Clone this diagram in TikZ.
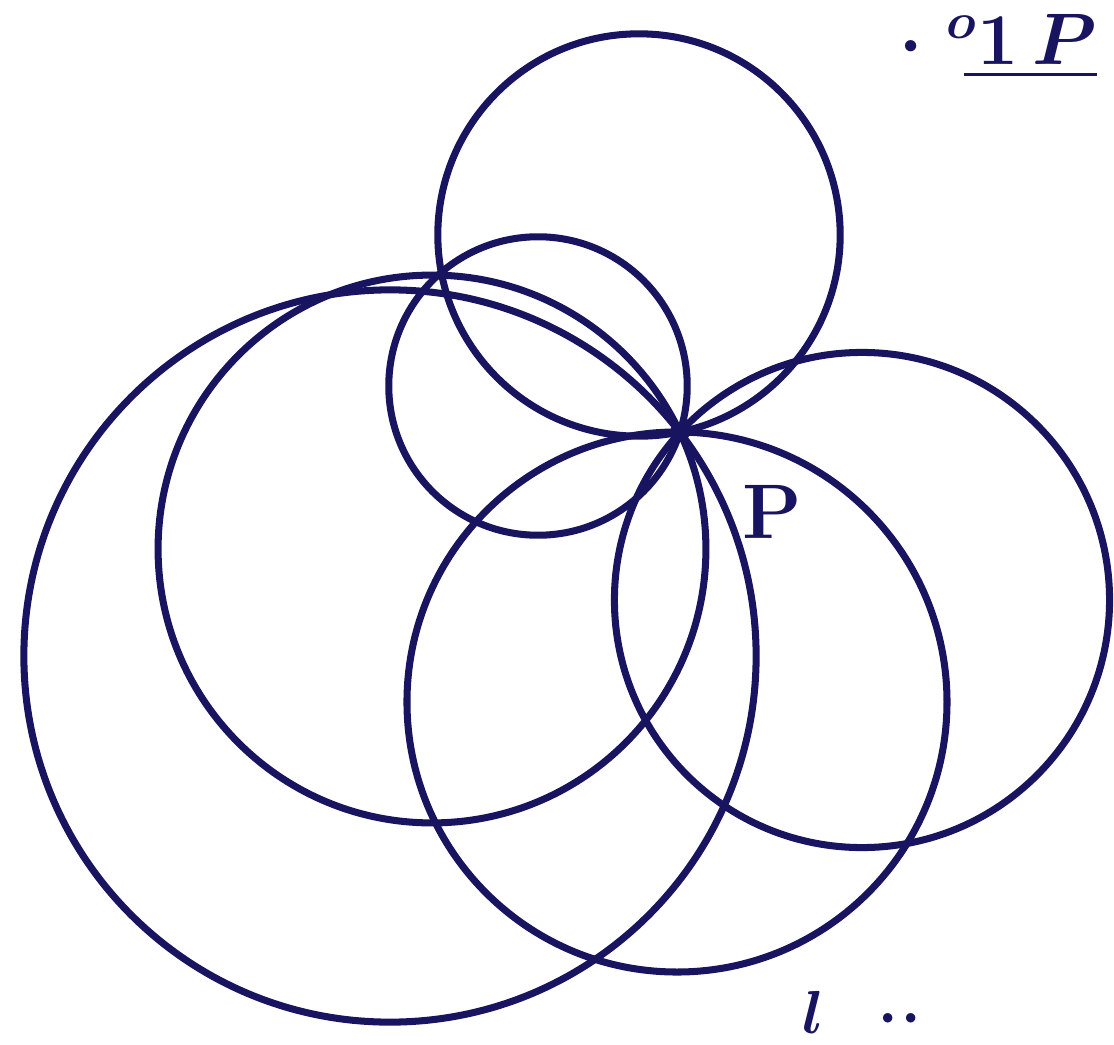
\documentclass[tikz,border=0pt]{standalone}
\usepackage{xcolor}
\definecolor{inkblue}{RGB}{24,20,96}
\usepackage{tikz}
\usetikzlibrary{positioning,calc}
\usepackage{amsmath}
\tikzset{
  ring/.style={draw=inkblue,line width=2pt},
  handlbl/.style={text=inkblue,inner sep=0pt,font=\fontsize{22}{22}\selectfont\bfseries},
}

\begin{document}
\begin{tikzpicture}[x=0.01cm,y=-0.01cm]
  \useasboundingbox (0,0) rectangle (1114,1045);
  % --- punto comun ---
  \coordinate (P) at (680,432);
  % --- circunferencias por P ---
  \foreach \name/\cx/\cy in {top/639/235,small/538/386,left/432/549,
      big/390/656,low/677/702,right/862/600}{
    \coordinate (C\name) at (\cx,\cy);
    \draw[ring] let \p1=($(P)-(C\name)$), \n1={veclen(\x1,\y1)} in
      (C\name) circle[radius=\n1];}
  \fill[inkblue] (P) circle[radius=0.1cm];
  % --- rotulos ---
  \node[handlbl] (lP) at (772,512) {P};
  \node[handlbl,anchor=north east] (top) at (1098,14)
    {$\boldsymbol{\cdot\;{}^{o}\!\underline{\,1\,P}}$};
  \node[handlbl,font=\fontsize{18}{18}\selectfont,anchor=south] (bot) at (862,1034)
    {$\boldsymbol{l\;\;\cdot\!\cdot}$};
\end{tikzpicture}
\end{document}
